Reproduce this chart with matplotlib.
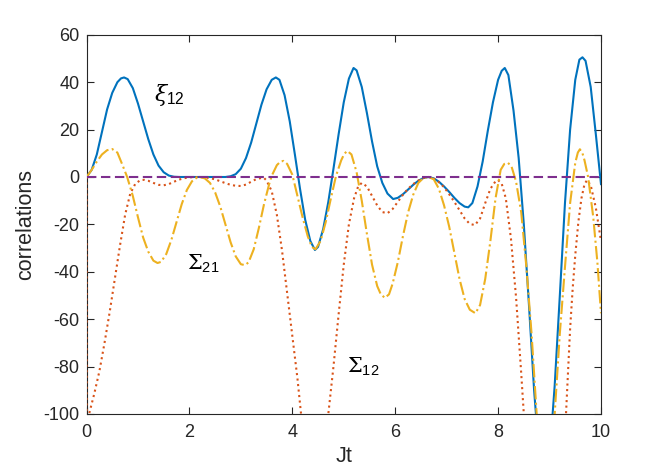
import matplotlib
matplotlib.use("Agg")
import matplotlib.pyplot as plt

# readings from the picture (Jt, value)
t_xi = [0.0, 0.1, 0.2, 0.3, 0.4, 0.5, 0.6, 0.67, 0.73, 0.8, 0.9, 1.0, 1.1, 1.2, 1.3, 1.4, 1.5,
        1.6, 1.7, 1.8, 2.7, 2.8, 2.9, 3.0, 3.1, 3.2, 3.3, 3.4, 3.5, 3.6, 3.68, 3.75, 3.85,
        3.95, 4.05, 4.15, 4.25, 4.35, 4.44, 4.5, 4.6, 4.7, 4.8, 4.9, 5.0, 5.1, 5.19, 5.25,
        5.35, 5.45, 5.55, 5.65, 5.75, 5.85, 5.96, 6.05, 6.15, 6.25, 6.35, 6.45, 6.55, 6.65,
        6.75, 6.85, 6.95, 7.05, 7.15, 7.25, 7.35, 7.42, 7.5, 7.6, 7.7, 7.8, 7.9, 8.0, 8.07,
        8.13, 8.2, 8.3, 8.4, 8.5, 8.6, 8.7, 8.8, 8.9, 9.0, 9.1, 9.2, 9.3, 9.4, 9.5, 9.58,
        9.64, 9.7, 9.8, 9.9, 10.0]
xi12 = [0, 3, 9.5, 19, 28.5, 35.5, 40, 41.6, 42, 41.3, 37.5, 31, 23.5, 16, 9.5, 4.8, 2,
        0.6, 0.1, 0, 0, 0.3, 1.2, 3.5, 8, 14.5, 22.5, 30.5, 37, 41, 42, 41, 34.5,
        23.5, 9.5, -5, -18, -27, -30.8, -29.5, -22, -10.5, 3.5, 18, 31.5, 41.5, 46, 45,
        38, 27, 15, 4.5, -2.5, -7, -9.3, -8.8, -7.3, -5.3, -3.3, -1.6, -0.4, 0,
        -0.6, -2, -4, -6.3, -8.8, -11, -12.5, -12.8, -11, -4, 6.5, 19.5, 31.5, 41, 44.8,
        46, 43, 28, 8, -20, -54, -90, -118, -128, -118, -88, -50, -11, 20, 41, 49.5,
        50.5, 49, 38, 18, -3]

t_s21 = [0.0, 0.1, 0.2, 0.3, 0.4, 0.5, 0.6, 0.7, 0.79, 0.9, 1.0, 1.1, 1.2, 1.3, 1.38, 1.45,
         1.55, 1.65, 1.75, 1.85, 1.95, 2.05, 2.15, 2.2, 2.3, 2.4, 2.5, 2.6, 2.7, 2.8, 2.9,
         3.0, 3.08, 3.15, 3.25, 3.35, 3.45, 3.55, 3.6, 3.7, 3.77, 3.83, 3.9, 4.0, 4.1, 4.2, 4.3,
         4.38, 4.45, 4.55, 4.65, 4.75, 4.85, 4.95, 5.01, 5.07, 5.15, 5.25, 5.35, 5.45, 5.55, 5.65,
         5.72, 5.8, 5.88, 5.95, 6.05, 6.15, 6.25, 6.35, 6.45, 6.55, 6.65, 6.75, 6.85, 6.95,
         7.05, 7.15, 7.25, 7.35, 7.45, 7.56, 7.65, 7.75, 7.85, 7.95, 8.05, 8.12, 8.19, 8.26,
         8.35, 8.45, 8.55, 8.65, 8.75, 8.85, 8.95, 9.05, 9.1, 9.2, 9.3, 9.4, 9.5, 9.55, 9.59,
         9.64, 9.68, 9.75, 9.85, 9.93, 10.0]
sigma21 = [0, 3, 6.5, 9.5, 11.3, 11.8, 10.3, 5, 0, -8, -17, -25.5, -31.5, -35.3, -36.3, -35.8,
           -32.5, -26.5, -19, -11.5, -5.5, -1.8, -0.2, 0, -0.6, -2.5, -6.5, -12.5, -20, -27.5, -33.5,
           -36.8, -37.2, -36, -30.5, -21.5, -11.5, -3, 0.5, 5, 6.5, 6.8, 5.5, 1, -8, -17, -25,
           -29.5, -30.5, -27, -19, -9, 0.5, 7, 9.8, 11, 9.5, 2, -10, -24, -37, -46,
           -49.5, -51, -49.5, -45, -36, -25, -15, -7.5, -2.5, -0.4, 0, -1, -5, -12,
           -21, -32, -43, -51.5, -56, -57.5, -54, -43, -27, -9, 3, 5.5, 6, 4.5,
           -2, -15, -38, -66, -100, -122, -128, -115, -100, -66, -38, -11, 6, 10.3, 11.7,
           10, 7, 0, -17, -36, -57.5]

t_s12 = [0.0, 0.002, 0.05, 0.15, 0.25, 0.35, 0.45, 0.55, 0.65, 0.75, 0.85, 0.95, 1.05, 1.12,
         1.2, 1.3, 1.4, 1.5, 1.6, 1.7, 1.8, 1.9, 2.0, 2.2, 2.35, 2.5, 2.6, 2.7, 2.8, 2.9,
         3.0, 3.1, 3.2, 3.3, 3.4, 3.45, 3.5, 3.6, 3.7, 3.8, 3.9, 4.0, 4.1, 4.17, 4.3, 4.45,
         4.6, 4.7, 4.8, 4.9, 5.0, 5.1, 5.2, 5.28, 5.35, 5.45, 5.55, 5.65, 5.75, 5.85, 5.95,
         6.05, 6.15, 6.25, 6.35, 6.45, 6.55, 6.65, 6.75, 6.85, 6.95, 7.05, 7.15, 7.25, 7.35,
         7.45, 7.55, 7.65, 7.75, 7.85, 7.95, 8.0, 8.07, 8.15, 8.25, 8.35, 8.45, 8.5, 8.7,
         8.9, 9.1, 9.32, 9.4, 9.45, 9.5, 9.56, 9.62, 9.68, 9.73, 9.8, 9.9, 10.0]
sigma12 = [0, -108, -100, -91.5, -82, -70, -57, -43, -29, -16, -7, -2.8, -1.3, -1.2,
           -1.6, -2.5, -3.3, -3.5, -3, -2, -1.1, -0.5, -0.15, 0, -0.3, -1, -1.8, -2.6, -3.3, -3.7,
           -3.8, -3.2, -2, -0.9, -0.4, -0.4, -1.5, -6, -16, -31, -49, -67, -85, -100, -125, -135,
           -122, -100, -80, -58, -37, -20, -9, -4, -2.5, -4, -8, -12, -14.8, -15.3, -13.5,
           -10.5, -7.5, -5, -3, -1.5, -0.4, 0, -0.7, -2.2, -4.3, -7.3, -10.5, -14, -17.5,
           -19.8, -20.3, -17.5, -11, -5, -1.8, -1.3, -2.8, -9, -26, -51, -83, -100, -140,
           -150, -140, -100, -64, -47, -33, -19, -9, -3, -1.3, -3.5, -13, -27]

x_ticks = [0, 2, 4, 6, 8, 10]
y_ticks = [-100, -80, -60, -40, -20, 0, 20, 40, 60]

plt.rcParams['font.family'] = ['Liberation Sans', 'DejaVu Sans']
plt.rcParams['axes.unicode_minus'] = False
plt.rcParams['mathtext.fontset'] = 'custom'
plt.rcParams['mathtext.rm'] = 'DejaVu Serif'
plt.rcParams['mathtext.it'] = 'DejaVu Serif:italic'
plt.rcParams['mathtext.sf'] = 'Liberation Sans'

fig = plt.figure(figsize=(6.64, 4.67), dpi=100)
ax = fig.add_axes([0.1303, 0.1135, 0.7748, 0.812])

ax.plot(t_xi, xi12, color='#0072BD', lw=1.5, zorder=3)
ax.plot(t_s12, sigma12, color='#D95319', lw=1.5, linestyle=':', zorder=3)
ax.plot(t_s21, sigma21, color='#EDB120', lw=1.5, linestyle='-.', zorder=3)
ax.plot([0, 10], [0, 0], color='#7E2F8E', lw=1.5, dashes=(4.5, 2.2), zorder=4)

ax.text(1.31, 34.5, r'$\xi_{\mathsf{12}}$', fontsize=16, ha='left', va='center')
ax.text(1.95, -36.5, r'$\Sigma_{\mathsf{21}}$', fontsize=15, ha='left', va='center')
ax.text(5.06, -80, r'$\Sigma_{\mathsf{12}}$', fontsize=15, ha='left', va='center')

ax.set_xlim(0, 10)
ax.set_ylim(-100, 60)
ax.set_xticks(x_ticks)
ax.set_yticks(y_ticks)
ax.tick_params(direction='in', length=5, width=0.8, colors='#262626', labelsize=13,
               top=True, right=True)
ax.tick_params(axis='x', pad=7)
ax.tick_params(axis='y', pad=5)
for s in ax.spines.values():
    s.set_color('#262626')
    s.set_linewidth(0.8)

ax.set_xlabel('Jt', fontsize=15.5, color='#262626')
ax.set_ylabel('correlations', fontsize=15.5, color='#262626')
ax.xaxis.set_label_coords(0.5, -0.085)
ax.yaxis.set_label_coords(-0.097, 0.5)

fig.savefig('out.png', dpi=100)
